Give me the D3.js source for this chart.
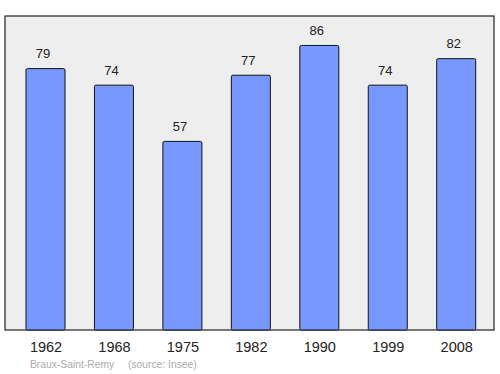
<!DOCTYPE html>
<html><head><meta charset="utf-8">
<script src="https://cdn.jsdelivr.net/npm/d3@7"></script>
<style>body{margin:0;background:#fff}svg{display:block}</style>
</head><body>
<script>
const years = ["1962","1968","1975","1982","1990","1999","2008"];
const values = [79,74,57,77,86,74,82];
const title = "Braux-Saint-Remy";
const source = "(source: Insee)";

const W=500,H=374;
const svg=d3.select("body").append("svg").attr("width",W).attr("height",H);
const plot={l:5,t:16,r:494,b:330};
svg.append("rect").attr("x",plot.l).attr("y",plot.t).attr("width",plot.r-plot.l).attr("height",plot.b-plot.t)
  .attr("fill","#eeeeee").attr("stroke","#222").attr("stroke-width",1.2);

const xs=d3.scalePoint().domain(years).range([45.5,456.2]);
const bw=39;
const y=d3.scaleLinear().domain([0,94.9]).range([plot.b,plot.t]);

const g=svg.append("g");
g.selectAll("rect.bar").data(values).join("rect").attr("class","bar")
  .attr("x",(d,i)=>xs(years[i])-bw/2).attr("width",bw)
  .attr("y",d=>y(d)).attr("height",d=>plot.b-y(d))
  .attr("rx",1.5)
  .attr("fill","#7799ff").attr("stroke","#111").attr("stroke-width",1);

g.selectAll("text.val").data(values).join("text").attr("class","val")
  .attr("x",(d,i)=>xs(years[i])-2.5).attr("y",d=>y(d)-10.5)
  .attr("text-anchor","middle").attr("font-family","Liberation Sans, Arial, sans-serif")
  .attr("font-size",13).attr("fill","#222").text(d=>d);

const xAxis=d3.axisBottom(xs).tickSize(0).tickPadding(0);
const ax=svg.append("g").attr("transform",`translate(0,${plot.b+22})`).call(xAxis);
ax.select(".domain").remove();
ax.selectAll("text").attr("font-family","Liberation Sans, Arial, sans-serif").attr("font-size",14.5).attr("fill","#222").attr("dy",0);

svg.append("text").attr("x",30).attr("y",367.5).attr("font-family","Liberation Sans, Arial, sans-serif")
  .attr("font-size",10.3).attr("fill","#aaaaaa").text(title);
svg.append("text").attr("x",128).attr("y",367.5).attr("font-family","Liberation Sans, Arial, sans-serif")
  .attr("font-size",10.3).attr("fill","#aaaaaa").text(source);
</script>
</body></html>
